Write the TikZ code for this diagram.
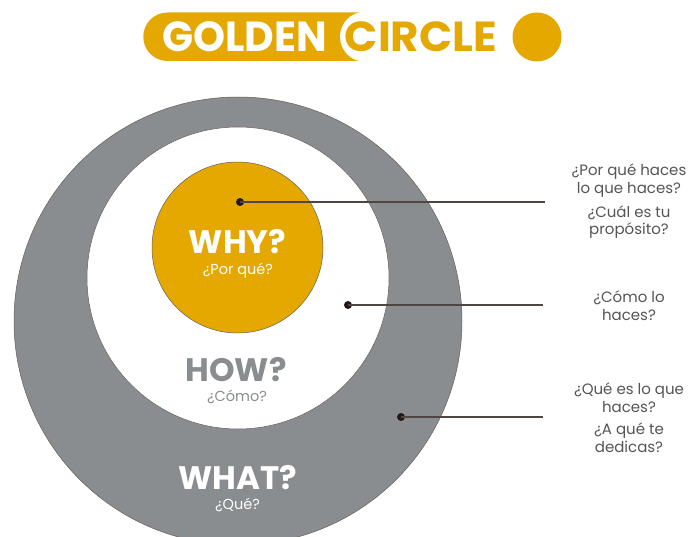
\documentclass[tikz,border=0pt]{standalone}
\usepackage{fontspec}
\setmainfont{Poppins}
\definecolor{gold}{HTML}{E5A800}
\definecolor{band}{HTML}{8A8D8F}
\definecolor{notegray}{HTML}{555555}
\definecolor{ink}{HTML}{231815}
\begin{document}
\begin{tikzpicture}[x=1pt,y=-1pt,
  ring/.style={draw=ink!70, line width=0.5pt},
  dotmark/.style={circle, fill=ink, inner sep=0pt, minimum size=8pt},
  leader/.style={draw=ink!80, line width=1.1pt},
  note/.style={align=center, text=notegray, inner sep=0pt,
    font=\fontsize{15}{17.5}\selectfont},
  bigword/.style={inner sep=0pt, font=\fontsize{32.5}{32}\selectfont\bfseries},
  subword/.style={inner sep=0pt, font=\fontsize{14.5}{14.5}\selectfont},
  titleword/.style={inner sep=0pt, font=\fontsize{42}{42}\selectfont\bfseries}]
\clip (0,0) rectangle (691,537);
\fill[white] (0,0) rectangle (691,537);

% title banner
\fill[gold] (167.5,12.5) -- (365,12.5) -- (365,61) -- (167.5,61)
  arc[start angle=90, end angle=270, radius=24.25] -- cycle;
\fill[white] (365,36.75) circle[radius=25];
\node[titleword, text=white, xscale=0.97] (golden) at (244.5,37) {GOLDEN};
\node[titleword, text=gold, xscale=1.04] (circleword) at (421,37) {CIRCLE};
\fill[gold] (537,37) circle[radius=24.5];

% the three rings
\path[fill=band, ring] (238,321) circle[radius=224];
\path[fill=white, ring] (238,278) circle[radius=151];
\path[fill=gold, ring] (237.5,247.5) circle[radius=85.5];

% ring labels
\node[bigword, text=white] (why) at (237.5,241.5) {WHY?};
\node[subword, text=white] (whysub) at (238,270.5) {¿Por qué?};
\node[bigword, text=band] (how) at (236,369.5) {HOW?};
\node[subword, text=band] (howsub) at (237,396.5) {¿Cómo?};
\node[bigword, text=white] (what) at (237.5,477.5) {WHAT?};
\node[subword, text=white] (whatsub) at (237.5,504.5) {¿Qué?};

% markers and leader lines
\node[dotmark] (dwhy) at (240,202) {};
\node[dotmark] (dhow) at (348,305) {};
\node[dotmark] (dwhat) at (401,417) {};
\coordinate (ewhy) at (545,202);
\coordinate (ehow) at (543,305);
\coordinate (ewhat) at (543,417);
\draw[leader] (dwhy.center) -- (ewhy);
\draw[leader] (dhow.center) -- (ehow);
\draw[leader] (dwhat.center) -- (ewhat);

% questions on the right
\node[note] (q1) at (629,180.5) {¿Por qué haces\\lo que haces?};
\node[note] (q2) at (629,222) {¿Cuál es tu\\propósito?};
\node[note] (q3) at (629,305.5) {¿Cómo lo\\haces?};
\node[note] (q4) at (629,397.5) {¿Qué es lo que\\haces?};
\node[note] (q5) at (629,437.5) {¿A qué te\\dedicas?};
\end{tikzpicture}
\end{document}
